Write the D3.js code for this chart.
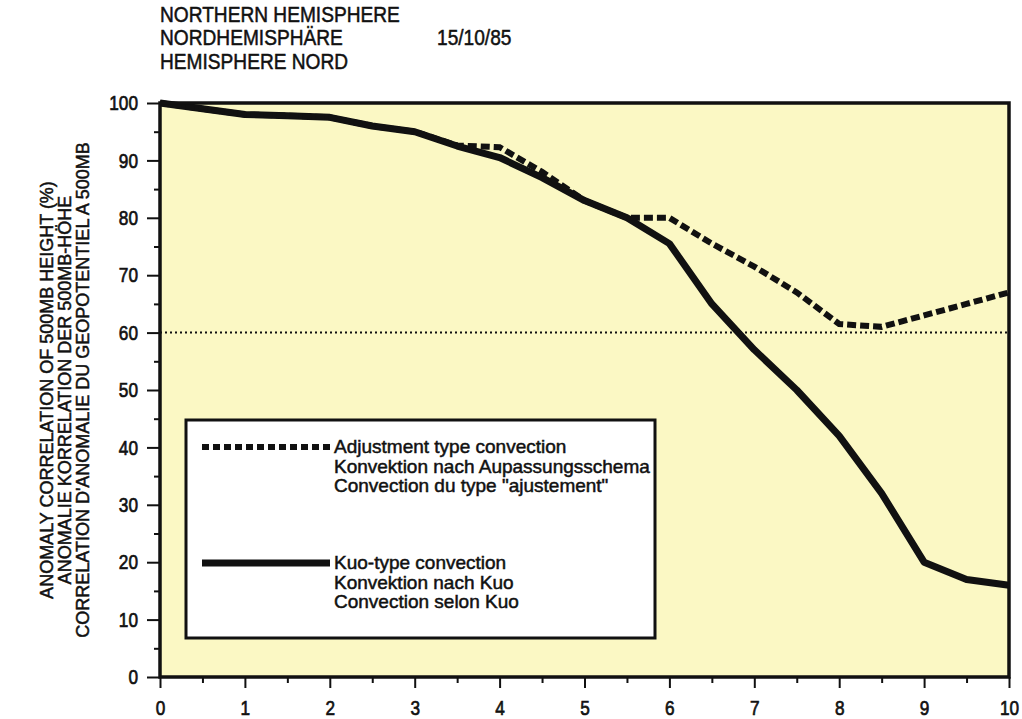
<!DOCTYPE html>
<html>
<head>
<meta charset="utf-8">
<script src="https://cdn.jsdelivr.net/npm/d3@7"></script>
<style>
  body { margin: 0; background: #fff; }
  svg text { font-family: "Liberation Sans", Arial, sans-serif; fill: #111; stroke: #111; stroke-width: 0.5px; }
</style>
</head>
<body>
<svg id="chart" width="1022" height="719"></svg>
<script>
// forecast day
var days = [0, 0.5, 1, 1.5, 2, 2.5, 3, 3.5, 4, 4.5, 5, 5.5, 6, 6.5, 7, 7.5, 8, 8.5, 9, 9.5, 10];
// adjustment type convection (dashed)
var adjustment = [100, 99, 98, 97.8, 97.5, 96, 95, 92.6, 92.3, 88, 83, 80, 80, 75.5, 71.5, 67, 61.5, 61, 63, 65, 67];
// kuo type convection (solid)
var kuo = [100, 99, 98, 97.8, 97.5, 96, 95, 92.5, 90.5, 87, 83, 80, 75.5, 65, 57, 50, 42, 32, 20, 17, 16];
var xTicks = [0, 1, 2, 3, 4, 5, 6, 7, 8, 9, 10];
var yTicks = [0, 10, 20, 30, 40, 50, 60, 70, 80, 90, 100];
var refLevel = 60;

var titleLines = ["NORTHERN HEMISPHERE", "NORDHEMISPHÄRE", "HEMISPHERE NORD"];
var dateText = "15/10/85";
var yLabelLines = ["ANOMALY CORRELATION OF 500MB HEIGHT (%)",
                   "ANOMALIE KORRELATION DER 500MB-HÖHE",
                   "CORRELATION D'ANOMALIE DU GEOPOTENTIEL A 500MB"];
var legendAdj = ["Adjustment type convection", "Konvektion nach Aupassungsschema", "Convection du type \"ajustement\""];
var legendKuo = ["Kuo-type convection", "Konvektion nach Kuo", "Convection selon Kuo"];

// narrow the glyphs horizontally (the original face is a condensed Helvetica)
function squeeze(sel, k) {
  sel.each(function() {
    var t = d3.select(this), x0 = +t.attr("x") || 0;
    t.attr("x", x0 / k).attr("transform", "scale(" + k + ",1)");
  });
}

(function draw() {
  var svg = d3.select("#chart"),
      margin = {top: 103, right: 13, bottom: 42, left: 160},
      width = +svg.attr("width") - margin.left - margin.right,
      height = +svg.attr("height") - margin.top - margin.bottom,
      g = svg.append("g").attr("transform", "translate(" + margin.left + "," + margin.top + ")");

  var x = d3.scaleLinear().domain([0, 10]).range([0, width]);
  var y = d3.scaleLinear().domain([0, 100]).range([height, 0]);

  // plot background
  g.append("rect").attr("width", width).attr("height", height).attr("fill", "#fbf8c4");

  // 60% reference
  g.append("line")
    .attr("x1", x(0)).attr("x2", x(10))
    .attr("y1", y(refLevel)).attr("y2", y(refLevel))
    .attr("stroke", "#111").attr("stroke-width", 2).attr("stroke-dasharray", "2,3");

  var line = d3.line().x(function(d) { return x(d[0]); }).y(function(d) { return y(d[1]); });

  g.append("path")
    .datum(days.map(function(d, i) { return [d, kuo[i]]; }))
    .attr("d", line).attr("fill", "none").attr("stroke", "#111")
    .attr("stroke-width", 7).attr("stroke-linejoin", "round");

  g.append("path")
    .datum(days.map(function(d, i) { return [d, adjustment[i]]; }))
    .attr("d", line).attr("fill", "none").attr("stroke", "#111")
    .attr("stroke-width", 6).attr("stroke-dasharray", "9,4");

  // legend
  var lg = g.append("g").attr("transform", "translate(26,317)");
  lg.append("rect").attr("width", 469).attr("height", 218)
    .attr("fill", "#fff").attr("stroke", "#111").attr("stroke-width", 3);
  lg.append("line").attr("x1", 16).attr("x2", 144).attr("y1", 27).attr("y2", 27)
    .attr("stroke", "#111").attr("stroke-width", 6).attr("stroke-dasharray", "7,4");
  lg.append("line").attr("x1", 16).attr("x2", 144).attr("y1", 143).attr("y2", 143)
    .attr("stroke", "#111").attr("stroke-width", 7);
  lg.selectAll("text.adj").data(legendAdj).enter().append("text").attr("class", "adj")
    .attr("x", 148).attr("y", function(d, i) { return 33 + i * 19.5; })
    .style("font-size", "19px").text(function(d) { return d; });
  lg.selectAll("text.kuo").data(legendKuo).enter().append("text").attr("class", "kuo")
    .attr("x", 148).attr("y", function(d, i) { return 149 + i * 19.5; })
    .style("font-size", "19px").text(function(d) { return d; });

  // axes
  g.append("g").attr("transform", "translate(0," + height + ")")
    .call(d3.axisBottom(x).tickValues(xTicks).tickFormat(d3.format("d")).tickSize(11).tickPadding(12));
  g.append("g").attr("transform", "translate(0," + height + ")")
    .call(d3.axisBottom(x).tickValues(d3.range(0.5, 10, 1)).tickFormat("").tickSize(6));
  g.append("g")
    .call(d3.axisLeft(y).tickValues(yTicks).tickSize(13).tickPadding(9));
  g.append("g")
    .call(d3.axisLeft(y).tickValues(d3.range(5, 100, 10)).tickFormat("").tickSize(6));
  g.selectAll(".domain").remove();
  g.selectAll(".tick line").attr("stroke", "#111").attr("stroke-width", 2);
  g.selectAll(".tick text").style("font-size", "21px").attr("fill", "#111")
    .style("font-family", "'Liberation Sans', Arial, sans-serif")
    .style("stroke", "#111").style("stroke-width", "0.7px");
  squeeze(g.selectAll(".tick text"), 0.82);

  // frame
  g.append("rect").attr("width", width).attr("height", height)
    .attr("fill", "none").attr("stroke", "#111").attr("stroke-width", 3.5);

  // title
  var titles = svg.selectAll("text.title").data(titleLines).enter().append("text").attr("class", "title")
    .attr("x", 160).attr("y", function(d, i) { return 22 + i * 23.5; })
    .style("font-size", "22px").text(function(d) { return d; });
  squeeze(titles, 0.87);
  var dt = svg.append("text").attr("x", 437).attr("y", 45.5).style("font-size", "22px").text(dateText);
  squeeze(dt, 0.87);

  // y label
  svg.selectAll("text.ylab").data(yLabelLines).enter().append("text").attr("class", "ylab")
    .attr("transform", function(d, i) { return "translate(" + (53 + i * 18) + "," + (y(50) + margin.top) + ") rotate(-90)"; })
    .attr("text-anchor", "middle")
    .style("font-size", "18px").text(function(d) { return d; });
})();
</script>
</body>
</html>
